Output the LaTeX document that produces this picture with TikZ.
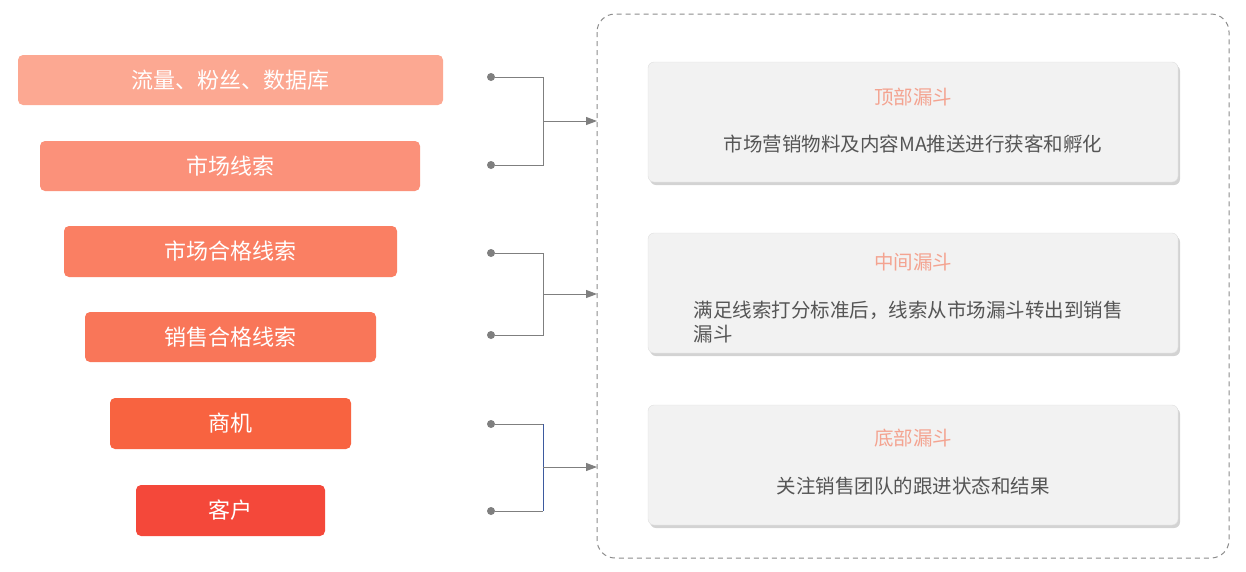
\documentclass[tikz,border=0pt]{standalone}
\usepackage{fontspec}
\setmainfont{Noto Sans CJK SC}
\usetikzlibrary{shadows,arrows.meta}
\definecolor{c1}{HTML}{FCA892}
\definecolor{c2}{HTML}{FB917A}
\definecolor{c3}{HTML}{FA7F63}
\definecolor{c4}{HTML}{F97659}
\definecolor{c5}{HTML}{F86340}
\definecolor{c6}{HTML}{F4483A}
\definecolor{lg}{HTML}{7F7F7F}
\definecolor{tt}{HTML}{F4A390}
\definecolor{bt}{HTML}{555555}
\definecolor{bl}{HTML}{3D5A9F}
\tikzset{
 card/.style={rounded corners=6pt,fill=gray!10,draw=gray!25,drop shadow={shadow xshift=2pt,shadow yshift=-3pt,opacity=0.35}},
 conn/.style={lg,line width=1pt},
 dot/.style={circle,fill=lg,inner sep=0pt,minimum size=8pt},
 arr/.style={conn,-{Triangle[length=11pt,width=8pt]}},
 ttl/.style={text=tt,font=\fontsize{19.5}{22}\selectfont},
 bdy/.style={text=bt,font=\fontsize{19.5}{24}\selectfont,align=left,text width=445pt}
}
\begin{document}
\begin{tikzpicture}[x=1pt,y=-1pt]
\useasboundingbox (0,0) rectangle (1246,571);
\foreach \i/\a/\b/\c/\d/\t in {1/18/443/55/105/流量、粉丝、数据库,2/40/420/141/191/市场线索,3/64/397/226/277/市场合格线索,4/85/376/312/362/销售合格线索,5/110/351/398/449/商机,6/136/325/485/536/客户}{
 \fill[c\i,rounded corners=5pt] (\a,\c) rectangle (\b,\d);
 \node[text=white,font=\fontsize{22}{24}\selectfont] (b\i) at ({(\a+\b)/2},{(\c+\d)/2}) {\t};
}
\draw[gray!90,line width=1pt,dash pattern=on 5pt off 4pt,rounded corners=18pt] (597,14) rectangle (1229,558);
\coordinate (a1) at (597,121);
\coordinate (a2) at (597,294);
\coordinate (a3) at (597,467);
\node[dot] (d1) at (491,77) {};
\node[dot] (d2) at (491,165) {};
\node[dot] (d3) at (491,253) {};
\node[dot] (d4) at (491,335) {};
\node[dot] (d5) at (491,424) {};
\node[dot] (d6) at (491,511) {};
\draw[conn] (d1) -- (543,77) -- (543,165) -- (d2);
\draw[arr] (543,121) -- (a1);
\draw[conn] (d3) -- (543,253) -- (543,335) -- (d4);
\draw[arr] (543,294) -- (a2);
\draw[conn] (d5) -- (543,424);
\draw[conn] (d6) -- (543,511);
\draw[bl,line width=1pt] (543,424) -- (543,511);
\draw[arr] (543,467) -- (a3);
\foreach \k/\y in {1/62,2/233,3/405}{
 \path[card] (648,\y) rectangle (1178,\y+120);
 \coordinate (k\k) at (913,\y);
}
\node[ttl] (t1) at (913,97) {顶部漏斗};
\node[bdy,text width=] (x1) at (913,144) {市场营销物料及内容MA推送进行获客和孵化};
\node[ttl] (t2) at (913,262) {中间漏斗};
\node[bdy] (x2) at (916,322) {满足线索打分标准后，线索从市场漏斗转出到销售\\漏斗};
\node[ttl] (t3) at (913,438) {底部漏斗};
\node[bdy,text width=] (x3) at (913,486) {关注销售团队的跟进状态和结果};
\end{tikzpicture}
\end{document}
